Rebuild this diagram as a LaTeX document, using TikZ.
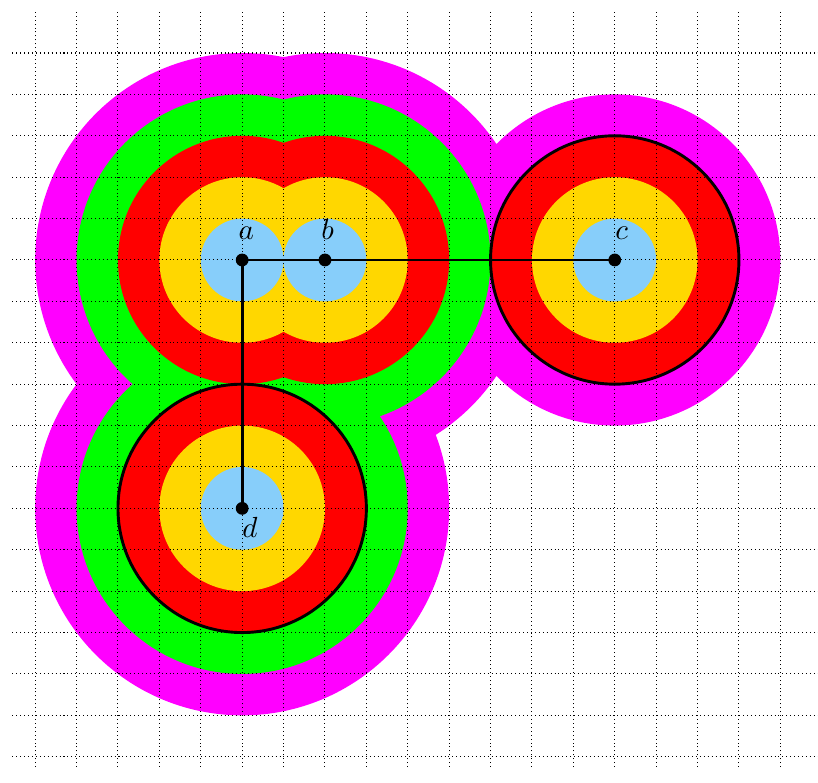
\documentclass[tikz,border=0pt]{standalone}
\usepackage{tikz}
\usetikzlibrary{positioning}
\definecolor{ringmag}  {HTML}{FF00FF}
\definecolor{ringgrn}  {HTML}{00FF00}
\definecolor{ringred}  {HTML}{FF0000}
\definecolor{ringgold} {HTML}{FFD700}
\definecolor{ringsky}  {HTML}{87CEFA}

\begin{document}
\begin{tikzpicture}[x=0.5cm,y=0.5cm,
    dot/.style={circle,fill=black,inner sep=0pt,minimum size=4.4pt},
    gridline/.style={densely dotted,line width=0.35pt},
    rim/.style={draw=black,line width=1pt},
    link/.style={line width=1pt}]
  \useasboundingbox (-5.85,-12.63) rectangle (13.91,6.28);
  \coordinate (a) at (0,0);
  \coordinate (b) at (2,0);
  \coordinate (c) at (9,0);
  \coordinate (d) at (0,-6);
  % rings, widest first
  \fill[ringmag]  (a) circle (5) (b) circle (5) (d) circle (5) (c) circle (4);
  \fill[ringgrn]  (a) circle (4) (b) circle (4) (d) circle (4);
  \fill[ringred]  (a) circle (3) (b) circle (3) (d) circle (3) (c) circle (3);
  \fill[ringgold] (a) circle (2) (b) circle (2) (d) circle (2) (c) circle (2);
  \fill[ringsky]  (a) circle (1) (b) circle (1) (d) circle (1) (c) circle (1);
  % grid
  \foreach \x in {-5,...,13}
    \draw[gridline] (\x,-12.25) -- (\x,6.0);
  \foreach \y in {-12,...,5}
    \draw[gridline] (-5.55,\y) -- (13.91,\y);
  \draw[rim] (c) circle (3) (d) circle (3);
  \draw[link] (a) -- (b) -- (c);
  \draw[link] (a) -- (d);
  \node[dot,label={[label distance=1pt,xshift=1.4pt]above:$a$}] (pa) at (a) {};
  \node[dot,label={[label distance=1pt,xshift=0.9pt]above:$b$}] (pb) at (b) {};
  \node[dot,label={[label distance=1pt,xshift=2.4pt]above:$c$}] (pc) at (c) {};
  \node[dot,label={[label distance=-3pt,xshift=2.7pt]below:$d$}] (pd) at (d) {};
\end{tikzpicture}
\end{document}
